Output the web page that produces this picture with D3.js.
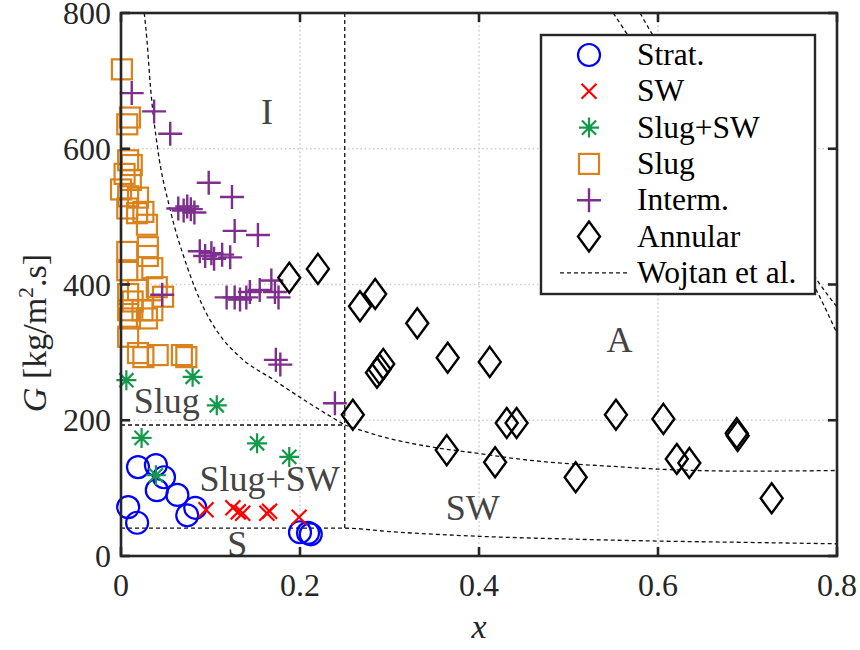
<!DOCTYPE html>
<html><head><meta charset="utf-8">
<script src="https://cdn.jsdelivr.net/npm/d3@7"></script>
<style>
html,body{margin:0;padding:0;background:#fff;}
</style></head>
<body><svg id="c" width="860" height="650"></svg>
<script>
// ---- data (x vapour quality, G mass flux) ----
const strat = [[0.008,72],[0.018,49],[0.019,131],[0.039,134],[0.048,116],[0.040,97],[0.063,90],[0.074,60],[0.083,71],[0.200,35],[0.209,34],[0.212,32]];
const sw = [[0.095,68],[0.125,71],[0.131,65],[0.136,63],[0.163,63],[0.166,66],[0.199,57]];
const slugSW = [[0.006,259],[0.080,264],[0.107,222],[0.023,174],[0.039,119],[0.152,166],[0.188,146]];
const slug = [[0.001,717],[0.010,646],[0.007,636],[0.008,583],[0.012,576],[0.004,563],[0.011,554],[0.000,540],[0.008,530],[0.019,528],
  [0.007,512],[0.018,505],[0.025,507],[0.029,488],[0.007,448],[0.030,455],[0.030,442],[0.007,421],[0.035,424],[0.008,386],
  [0.019,392],[0.040,396],[0.047,382],[0.008,362],[0.024,362],[0.035,362],[0.010,350],[0.029,350],[0.008,323],[0.019,299],
  [0.025,293],[0.041,296],[0.068,296],[0.073,293],[0.013,375]];
const interm = [[0.012,682],[0.037,655],[0.055,622],[0.098,550],[0.124,529],[0.064,512],[0.070,509],[0.074,515],[0.078,511],[0.082,506],
  [0.127,479],[0.153,473],[0.088,449],[0.094,442],[0.101,446],[0.104,438],[0.113,444],[0.122,440],[0.168,406],[0.172,389],
  [0.176,381],[0.144,389],[0.140,381],[0.127,381],[0.118,381],[0.133,378],[0.155,392],[0.173,289],[0.178,282],[0.239,225],[0.046,385]];
const annular = [[0.188,410],[0.220,423],[0.267,368],[0.284,386],[0.331,343],[0.365,292],[0.412,286],[0.286,270],[0.289,275],[0.293,283],
  [0.259,208],[0.364,156],[0.418,138],[0.431,196],[0.442,196],[0.553,208],[0.606,202],[0.508,116],[0.621,143],[0.635,137],
  [0.689,177],[0.688,181],[0.727,85]];
// Wojtan et al. map boundaries
const wojIS = [[0.026,800],[0.029,760],[0.033,690],[0.041,600],[0.055,510],[0.074,426],[0.090,372],[0.108,330],[0.133,293],[0.170,260],[0.208,227],[0.25,193]];
const wojSlugH = [[0,193],[0.25,193]];
const wojVert = [[0.25,800],[0.25,41]];
const wojStrat = [[0,41],[0.25,41],[0.3,36],[0.4,29],[0.5,25],[0.6,22],[0.7,20],[0.8,18]];
const wojSWA = [[0.25,193],[0.3,173],[0.35,160],[0.4,151],[0.45,142],[0.5,136],[0.55,132],[0.6,128],[0.7,125],[0.8,126]];
const wojD1 = [[0.55,800],[0.565,770],[0.6,700],[0.65,610],[0.7,525],[0.772,404],[0.8,328]];
const wojD2 = [[0.58,800],[0.593,770],[0.63,700],[0.68,612],[0.73,522],[0.779,404],[0.8,367]];
const regionLabels = [["I",0.163,654],["A",0.557,318],["Slug",0.051,228],["Slug+SW",0.166,114],["SW",0.393,70],["S",0.130,18]];
const xTicks = [0,0.2,0.4,0.6,0.8];
const xTickLabels = ["0","0.2","0.4","0.6","0.8"];
const yTicks = [0,200,400,600,800];
const yTickLabels = ["0","200","400","600","800"];
const legendLabels = ["Strat.","SW","Slug+SW","Slug","Interm.","Annular","Wojtan et al."];

// ---- layout ----
const FONT="'Liberation Serif','DejaVu Serif','Times New Roman',serif";
const L=121,R=837,T=13,B=556;
const svg=d3.select("#c").attr("font-family",FONT);
const x=d3.scaleLinear().domain([0,0.8]).range([L,R]);
const y=d3.scaleLinear().domain([0,800]).range([B,T]);

svg.append("defs").append("clipPath").attr("id","clip").append("rect")
  .attr("x",L).attr("y",T).attr("width",R-L).attr("height",B-T);

// grid
const grid=svg.append("g");
grid.selectAll(".gx").data(xTicks.slice(1,-1)).join("line")
  .attr("x1",d=>x(d)).attr("x2",d=>x(d)).attr("y1",T).attr("y2",B)
  .attr("stroke","#cfcfcf").attr("stroke-width",1.6).attr("stroke-dasharray","1.6,2.6");
grid.selectAll(".gy").data(yTicks.slice(1,-1)).join("line")
  .attr("y1",d=>y(d)).attr("y2",d=>y(d)).attr("x1",L).attr("x2",R)
  .attr("stroke","#cfcfcf").attr("stroke-width",1.6).attr("stroke-dasharray","1.6,2.6");

// boundaries
const line=d3.line().x(d=>x(d[0])).y(d=>y(d[1]));
const curve=d3.line().x(d=>x(d[0])).y(d=>y(d[1])).curve(d3.curveMonotoneX);
const gc=svg.append("g").attr("clip-path","url(#clip)");
[[wojIS,curve],[wojSlugH,line],[wojVert,line],[wojStrat,curve],[wojSWA,curve],[wojD1,curve],[wojD2,curve]]
 .forEach(([d,g])=>gc.append("path").attr("d",g(d)).attr("fill","none").attr("stroke","#111")
   .attr("stroke-width",1.3).attr("stroke-dasharray","4,3"));

// marker shapes
const shapes={
  circle:(g,cx,cy)=>g.append("circle").attr("cx",cx).attr("cy",cy).attr("r",11).attr("fill","none").attr("stroke","#0000ff").attr("stroke-width",2.2),
  cross:(g,cx,cy)=>{const s=7.5;g.append("path").attr("d",`M${cx-s},${cy-s}L${cx+s},${cy+s}M${cx-s},${cy+s}L${cx+s},${cy-s}`).attr("stroke","#ff0000").attr("stroke-width",2.2).attr("fill","none");},
  star:(g,cx,cy)=>{const s=10,d=s*0.707;g.append("path").attr("d",`M${cx},${cy-s}L${cx},${cy+s}M${cx-s},${cy}L${cx+s},${cy}M${cx-d},${cy-d}L${cx+d},${cy+d}M${cx-d},${cy+d}L${cx+d},${cy-d}`).attr("stroke","#12994a").attr("stroke-width",2.2).attr("fill","none");},
  square:(g,cx,cy)=>g.append("rect").attr("x",cx-10).attr("y",cy-10).attr("width",20).attr("height",20).attr("fill","none").attr("stroke","#D9821C").attr("stroke-width",2.2),
  plus:(g,cx,cy)=>{const s=12;g.append("path").attr("d",`M${cx},${cy-s}L${cx},${cy+s}M${cx-s},${cy}L${cx+s},${cy}`).attr("stroke","#7E2F8E").attr("stroke-width",2.4).attr("fill","none");},
  diamond:(g,cx,cy)=>{const w=11,h=15;g.append("path").attr("d",`M${cx},${cy-h}L${cx+w},${cy}L${cx},${cy+h}L${cx-w},${cy}Z`).attr("stroke","#000").attr("stroke-width",2.4).attr("fill","none");}
};
const series=[[strat,"circle"],[sw,"cross"],[slugSW,"star"],[slug,"square"],[interm,"plus"],[annular,"diamond"]];
const gm=svg.append("g");
series.forEach(([data,sh])=>data.forEach(d=>shapes[sh](gm,x(d[0]),y(d[1]))));

// region labels
svg.append("g").selectAll("text").data(regionLabels).join("text")
  .attr("font-family",FONT)
  .attr("x",d=>x(d[1])).attr("y",d=>y(d[2])+12).attr("text-anchor","middle")
  .attr("font-size",36).attr("fill","#444").text(d=>d[0]);

// axes box + ticks
const ax=svg.append("g").attr("font-size",32).attr("fill","#262626");
ax.append("rect").attr("x",L).attr("y",T).attr("width",R-L).attr("height",B-T).attr("fill","none").attr("stroke","#262626").attr("stroke-width",2.6);
const tk=9;
xTicks.forEach(t=>{ax.append("line").attr("x1",x(t)).attr("x2",x(t)).attr("y1",B).attr("y2",B-tk).attr("stroke","#262626").attr("stroke-width",2.6);
  ax.append("line").attr("x1",x(t)).attr("x2",x(t)).attr("y1",T).attr("y2",T+tk).attr("stroke","#262626").attr("stroke-width",2.6);});
yTicks.forEach(t=>{ax.append("line").attr("y1",y(t)).attr("y2",y(t)).attr("x1",L).attr("x2",L+tk).attr("stroke","#262626").attr("stroke-width",2.6);
  ax.append("line").attr("y1",y(t)).attr("y2",y(t)).attr("x1",R).attr("x2",R-tk).attr("stroke","#262626").attr("stroke-width",2.6);});
ax.selectAll(".xl").data(xTicks).join("text").attr("font-family",FONT).attr("x",d=>x(d)).attr("y",B+40).attr("text-anchor","middle")
  .attr("fill","#262626").text((d,i)=>xTickLabels[i]);
ax.selectAll(".yl").data(yTicks).join("text").attr("font-family",FONT).attr("x",L-10).attr("y",d=>y(d)+11).attr("text-anchor","end")
  .attr("fill","#262626").text((d,i)=>yTickLabels[i]);
// axis titles
svg.append("text").attr("font-family",FONT).attr("x",(L+R)/2).attr("y",638).attr("text-anchor","middle").attr("font-size",34)
  .attr("font-style","italic").attr("fill","#262626").text("x");
const yt=svg.append("text").attr("font-family",FONT).attr("transform","translate(46,333) rotate(-90)").attr("text-anchor","middle")
  .attr("font-size",34).attr("fill","#262626");
yt.append("tspan").attr("font-style","italic").text("G");
yt.append("tspan").text(" [kg/m");
yt.append("tspan").attr("font-size",22).attr("dy",-13).text("2");
yt.append("tspan").attr("dy",13).text(".s]");

// legend
const lg=svg.append("g");
lg.append("rect").attr("x",541).attr("y",35).attr("width",274).attr("height",259).attr("fill","#fff")
  .attr("stroke","#262626").attr("stroke-width",2.4);
const ly=i=>55+i*36.3;
series.forEach(([d,sh],i)=>shapes[sh](lg,589,ly(i)));
lg.append("line").attr("x1",560).attr("x2",628).attr("y1",ly(6)).attr("y2",ly(6)).attr("stroke","#111").attr("stroke-width",1.3).attr("stroke-dasharray","4,3");
lg.selectAll("text").data(legendLabels).join("text").attr("font-family",FONT).attr("x",637).attr("y",(d,i)=>ly(i)+10)
  .attr("font-size",31.5).attr("fill","#000").text(d=>d);
</script></body></html>
